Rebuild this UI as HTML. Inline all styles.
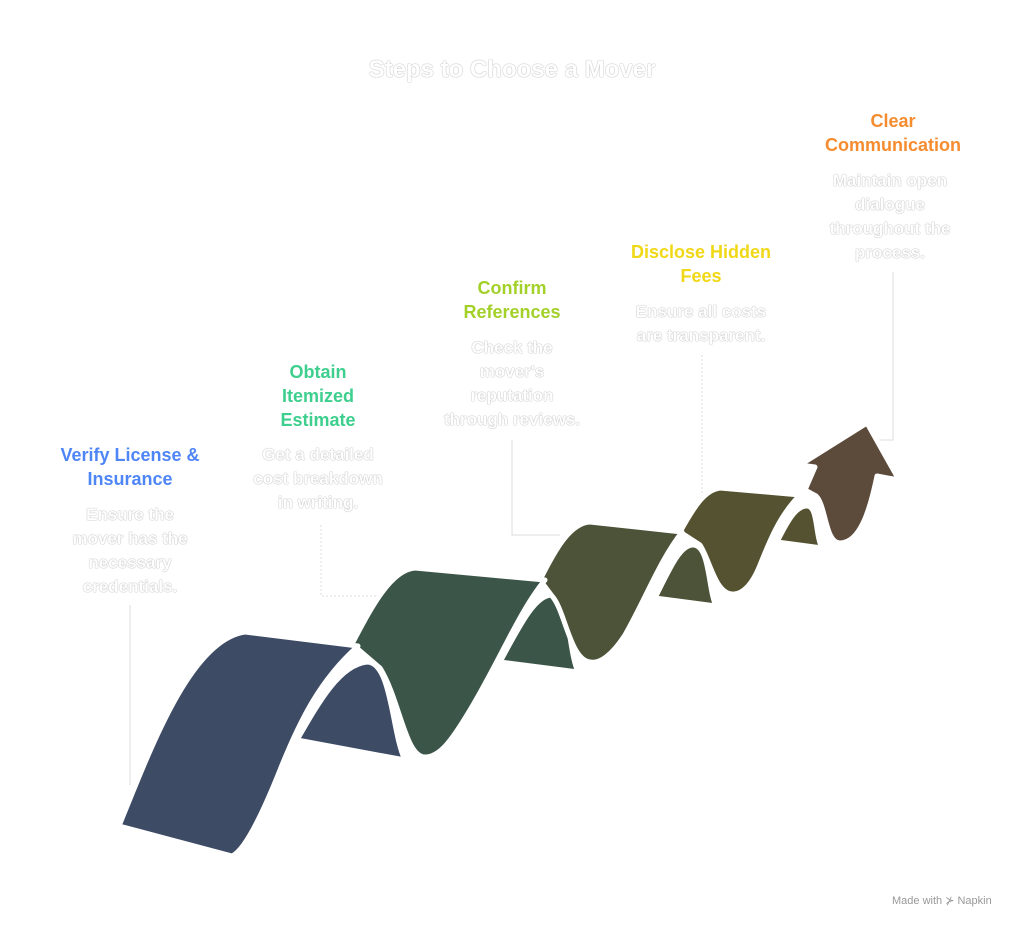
<!DOCTYPE html>
<html><head><meta charset="utf-8"><style>
body{margin:0;background:#fff;width:1024px;height:929px;position:relative;overflow:hidden;font-family:"Liberation Sans",sans-serif}
.t{position:absolute;text-align:center;white-space:nowrap;transform:translateX(-50%);font-weight:bold;font-size:18px;line-height:24px}
.d{position:absolute;text-align:center;white-space:nowrap;transform:translateX(-50%);font-weight:bold;font-size:17px;line-height:24px;color:#fff;text-shadow:0 0 1px #aaa,0 0 1px #aaa}
svg{position:absolute;left:0;top:0}
</style></head><body>
<svg width="1024" height="929" viewBox="0 0 1024 929">
<g fill="none" stroke="#ddd" stroke-width="1">
<path d="M130 605 V785"/>
<path d="M321 525 V596 H385" stroke-dasharray="2 2"/>
<path d="M512 440 V535 H560"/>
<path d="M702 355 V505" stroke-dasharray="2 2"/>
<path d="M893 272 V440 H878"/>
</g>
<g stroke="#fff" stroke-width="5" stroke-linejoin="round">
<path fill="#3d4b65" d="M297 740 C320 700 340 665 367 662 C392 662 392 735 405 760 Z"/>
<path fill="#3c5549" d="M500 662 C520 625 535 595 552 595 C570 595 568 650 578 672 Z"/>
<path fill="#4c5339" d="M655 598 C670 568 680 545 693 545 C710 545 708 590 716 606 Z"/>
<path fill="#555232" d="M777 542 C788 520 796 506 807 506 C818 506 815 535 822 548 Z"/>
<path fill="#5c4a3a" d="M800 465 L867 423 L899 480 L877 476 C870 510 860 543 840 543 C825 543 826 505 816 496 L805 490 L815 467 Z"/>
<path fill="#555232" d="M680 532 C695 505 705 490 720 488 L800 495 C780 515 770 540 760 565 C752 585 742 595 732 594 C715 593 710 560 700 545 Z"/>
<path fill="#4c5339" d="M540 580 C555 550 570 523 590 522 L682 532 C660 560 645 600 625 635 C612 655 600 664 590 662 C570 660 565 610 552 596 Z"/>
<path fill="#3c5549" d="M352 644 C370 610 390 570 415 568 L545 580 C520 610 500 660 470 710 C452 740 440 757 425 757 C405 757 400 700 380 668 Z"/>
<path fill="#3d4b65" d="M119 826 C150 750 190 640 245 632 L358 646 C320 680 300 720 280 770 C262 815 245 850 232 856 Z"/>
</g>
</svg>
<div class="d" style="left:512px;top:55px;font-size:24px;line-height:30px">Steps to Choose a Mover</div>
<div class="t" style="left:130px;top:443px;color:#4f86f7">Verify License &amp;<br>Insurance</div>
<div class="d" style="left:130px;top:503px">Ensure the<br>mover has the<br>necessary<br>credentials.</div>
<div class="t" style="left:318px;top:360px;color:#3ecf8e">Obtain<br>Itemized<br>Estimate</div>
<div class="d" style="left:318px;top:443px">Get a detailed<br>cost breakdown<br>in writing.</div>
<div class="t" style="left:512px;top:276px;color:#a3d12a">Confirm<br>References</div>
<div class="d" style="left:512px;top:336px">Check the<br>mover's<br>reputation<br>through reviews.</div>
<div class="t" style="left:701px;top:240px;color:#f0d816">Disclose Hidden<br>Fees</div>
<div class="d" style="left:701px;top:300px">Ensure all costs<br>are transparent.</div>
<div class="t" style="left:893px;top:109px;color:#f58c2f">Clear<br>Communication</div>
<div class="d" style="left:890px;top:169px">Maintain open<br>dialogue<br>throughout the<br>process.</div>
<div style="position:absolute;left:892px;top:894px;font-size:11px;color:#999">Made with ⊁ Napkin</div>
</body></html>
